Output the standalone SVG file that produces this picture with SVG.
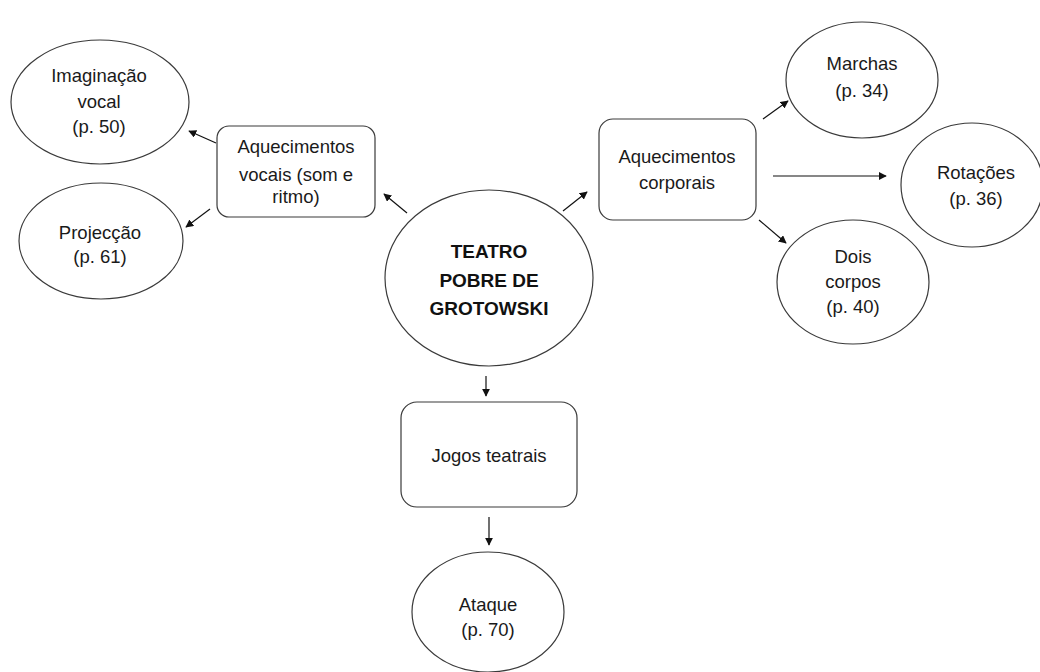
<svg xmlns="http://www.w3.org/2000/svg" width="1040" height="672" viewBox="0 0 1040 672">
<style>
.n{fill:#fff;stroke:#3a3a3a;stroke-width:1.2}
.t{font-family:"Liberation Sans",Arial,sans-serif;font-size:18.5px;fill:#1a1a1a;text-anchor:middle}
.b{font-family:"Liberation Sans",Arial,sans-serif;font-size:19px;font-weight:bold;fill:#111;text-anchor:middle}
.c{stroke:#111;stroke-width:1.2;fill:none;marker-end:url(#ah)}
</style>
<defs>
<marker id="ah" viewBox="0 0 10 10" refX="9" refY="5" markerWidth="8" markerHeight="8" markerUnits="userSpaceOnUse" orient="auto">
<path d="M0,0 L10,5 L0,10 z" fill="#111"/>
</marker>
</defs>
<rect width="1040" height="672" fill="#fff"/>
<g id="connectors">
<line class="c" x1="216" y1="143" x2="189" y2="131"/>
<line class="c" x1="210" y1="209" x2="186" y2="227"/>
<line class="c" x1="407" y1="213" x2="384" y2="194"/>
<line class="c" x1="563" y1="211" x2="587" y2="192"/>
<line class="c" x1="763" y1="119" x2="788" y2="101"/>
<line class="c" x1="773" y1="176" x2="886" y2="176"/>
<line class="c" x1="759" y1="220" x2="786" y2="243"/>
<line class="c" x1="486" y1="376" x2="486" y2="396"/>
<line class="c" x1="489" y1="517" x2="489" y2="545"/>
</g>
<g id="imaginacao">
<ellipse class="n" cx="100" cy="102" rx="89" ry="62"/>
<text class="t" x="99" y="82">Imaginação</text>
<text class="t" x="99" y="108">vocal</text>
<text class="t" x="99" y="133">(p. 50)</text>
</g>
<g id="projeccao">
<ellipse class="n" cx="101" cy="241" rx="82" ry="58"/>
<text class="t" x="100" y="239">Projecção</text>
<text class="t" x="100" y="263">(p. 61)</text>
</g>
<g id="vocais">
<rect class="n" x="217" y="126" width="158" height="91" rx="12"/>
<text class="t" x="296" y="153">Aquecimentos</text>
<text class="t" x="296" y="181">vocais (som e</text>
<text class="t" x="296" y="203">ritmo)</text>
</g>
<g id="teatro">
<ellipse class="n" cx="489" cy="278" rx="104" ry="88"/>
<text class="b" x="489" y="258">TEATRO</text>
<text class="b" x="489" y="287">POBRE DE</text>
<text class="b" x="489" y="315">GROTOWSKI</text>
</g>
<g id="corporais">
<rect class="n" x="599" y="119" width="157" height="101" rx="14"/>
<text class="t" x="677" y="163">Aquecimentos</text>
<text class="t" x="677" y="189">corporais</text>
</g>
<g id="marchas">
<ellipse class="n" cx="862" cy="80" rx="76" ry="58"/>
<text class="t" x="862" y="70">Marchas</text>
<text class="t" x="862" y="97">(p. 34)</text>
</g>
<g id="rotacoes">
<ellipse class="n" cx="972" cy="185" rx="71" ry="62"/>
<text class="t" x="976" y="179">Rotações</text>
<text class="t" x="976" y="205">(p. 36)</text>
</g>
<g id="dois">
<ellipse class="n" cx="853" cy="282" rx="76" ry="62"/>
<text class="t" x="853" y="263">Dois</text>
<text class="t" x="853" y="288">corpos</text>
<text class="t" x="853" y="313">(p. 40)</text>
</g>
<g id="jogos">
<rect class="n" x="401" y="402" width="176" height="105" rx="16"/>
<text class="t" x="489" y="462">Jogos teatrais</text>
</g>
<g id="ataque">
<ellipse class="n" cx="488" cy="612" rx="76" ry="60"/>
<text class="t" x="488" y="611">Ataque</text>
<text class="t" x="488" y="636">(p. 70)</text>
</g>
</svg>
